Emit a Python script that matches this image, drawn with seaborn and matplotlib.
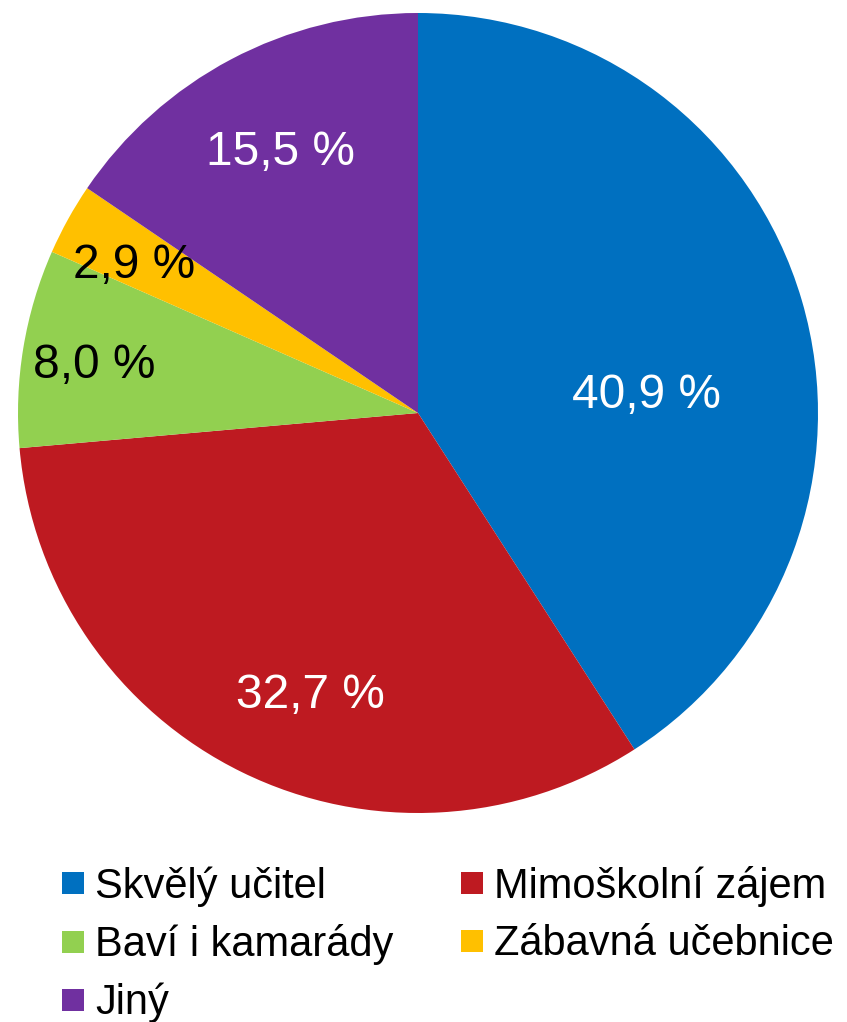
import matplotlib
matplotlib.use("Agg")
import matplotlib.pyplot as plt
import seaborn as sns
from matplotlib.lines import Line2D

sns.set_style("white")
plt.rcParams['font.family'] = ['Liberation Sans', 'DejaVu Sans']
plt.rcParams['text.color'] = 'black'

# data
categories = ['Skvělý učitel', 'Mimoškolní zájem', 'Baví i kamarády', 'Zábavná učebnice', 'Jiný']
shares = [40.9, 32.7, 8.0, 2.9, 15.5]
colors = ['#0070C0', '#BE1A21', '#92D050', '#FFC000', '#7030A0']
label_colors = ['white', 'white', 'black', 'black', 'white']

fig = plt.figure(figsize=(8.47, 10.22), dpi=100)
ax = fig.add_axes([18 / 847, 209 / 1022, 800 / 847, 800 / 1022])

wedges, texts, autotexts = ax.pie(
    shares, colors=colors, startangle=90, counterclock=False,
    autopct=lambda p: f"{p:.1f} %".replace('.', ','), pctdistance=0.78,
    wedgeprops=dict(linewidth=0), radius=1)
ax.set_xlim(-1, 1)
ax.set_ylim(-1, 1)
ax.set_aspect('equal')

# label placement as in the original (Excel-style)
label_pos = [(0.57, 0.045), (-0.27, -0.705), (-0.81, 0.12), (-0.71, 0.37), (-0.345, 0.652)]
for t, c, p in zip(autotexts, label_colors, label_pos):
    t.set_color(c)
    t.set_fontsize(34.5)
    t.set_position(p)

# legend in row-major order
order = [0, 2, 4, 1, 3]
handles = [Line2D([], [], marker='s', linestyle='none', markersize=15.8,
                  markerfacecolor=colors[i], markeredgewidth=0) for i in order]
fig.legend(handles, [categories[i] for i in order], ncol=2, frameon=False,
           loc='upper left', bbox_to_anchor=(0.0665, 0.153), fontsize=30,
           handletextpad=0.13, columnspacing=1.49, labelspacing=0.42,
           handlelength=0.8, borderpad=0, borderaxespad=0, labelcolor='black')

fig.savefig('out.png', dpi=100)
